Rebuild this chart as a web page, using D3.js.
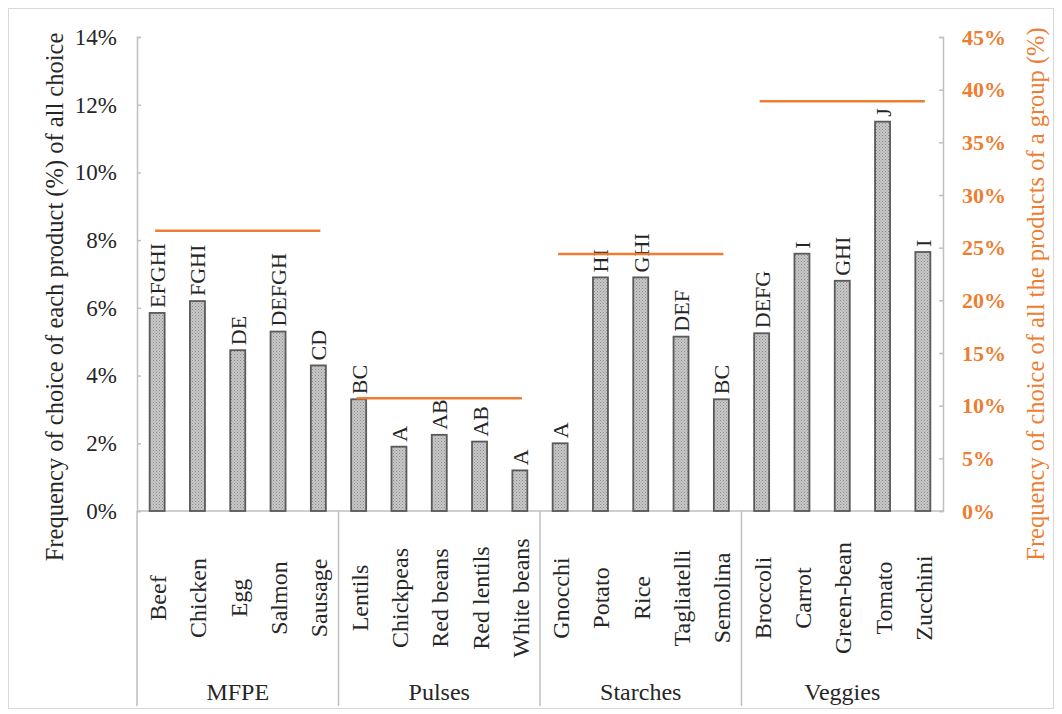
<!DOCTYPE html>
<html>
<head>
<meta charset="utf-8">
<script src="https://cdn.jsdelivr.net/npm/d3@7"></script>
<style>
  body { margin: 0; background: #fff; }
  svg { display: block; font-family: "Liberation Serif", "Times New Roman", serif; }
</style>
</head>
<body>
<svg width="1062" height="714"></svg>
<script>
// data
var groups = ["MFPE", "Pulses", "Starches", "Veggies"];
var products = ["Beef", "Chicken", "Egg", "Salmon", "Sausage",
    "Lentils", "Chickpeas", "Red beans", "Red lentils", "White beans",
    "Gnocchi", "Potato", "Rice", "Tagliatelli", "Semolina",
    "Broccoli", "Carrot", "Green-bean", "Tomato", "Zucchini"];
var productGroup = ["MFPE", "MFPE", "MFPE", "MFPE", "MFPE",
    "Pulses", "Pulses", "Pulses", "Pulses", "Pulses",
    "Starches", "Starches", "Starches", "Starches", "Starches",
    "Veggies", "Veggies", "Veggies", "Veggies", "Veggies"];
var productFreq = [5.85, 6.2, 4.75, 5.3, 4.3,
    3.3, 1.9, 2.25, 2.05, 1.2,
    2.0, 6.9, 6.9, 5.15, 3.3,
    5.25, 7.6, 6.8, 11.5, 7.65];
var letters = ["EFGHI", "FGHI", "DE", "DEFGH", "CD",
    "BC", "A", "AB", "AB", "A",
    "A", "HI", "GHI", "DEF", "BC",
    "DEFG", "I", "GHI", "J", "I"];
var groupFreq = [26.6, 10.7, 24.4, 38.9];
var leftTicks = [0, 2, 4, 6, 8, 10, 12, 14];
var rightTicks = [0, 5, 10, 15, 20, 25, 30, 35, 40, 45];

var svg = d3.select("svg"),
    width = +svg.attr("width"),
    height = +svg.attr("height");

var orange = "#ed7d31",
    axisGrey = "#bfbfbf",
    textCol = "#262626";

var plot = {left: 137, right: 943, top: 37, bottom: 511, labelBottom: 706};

var x = d3.scaleBand()
    .domain(products)
    .range([plot.left, plot.right]);

var y = d3.scaleLinear()
    .domain([0, 14])
    .range([plot.bottom, plot.top]);

var y2 = d3.scaleLinear()
    .domain([0, 45])
    .range([plot.bottom, plot.top]);

// chart area border
svg.append("rect")
    .attr("x", 8.5).attr("y", 8.5)
    .attr("width", width - 17).attr("height", height - 14)
    .attr("fill", "none")
    .attr("stroke", "#d9d9d9");

// dotted fill for the bars
var defs = svg.append("defs");
var pat = defs.append("pattern")
    .attr("id", "dots")
    .attr("patternUnits", "userSpaceOnUse")
    .attr("width", 3).attr("height", 3);
pat.append("rect").attr("width", 3).attr("height", 3).attr("fill", "#c8c8c8");
pat.append("rect").attr("width", 1).attr("height", 1).attr("fill", "#8c8c8c");
pat.append("rect").attr("x", 1.5).attr("y", 1.5).attr("width", 1).attr("height", 1).attr("fill", "#9a9a9a");

// left axis
var gY = svg.append("g")
    .attr("transform", `translate(${plot.left},0)`)
    .call(d3.axisRight(y)
        .tickValues(leftTicks)
        .tickSize(4)
        .tickFormat(d => d + "%"));
gY.select(".domain").attr("stroke", axisGrey).attr("stroke-width", 1.5);
gY.selectAll(".tick line").attr("stroke", axisGrey).attr("stroke-width", 1.5);
gY.selectAll(".tick text")
    .attr("x", -20)
    .attr("text-anchor", "end")
    .attr("fill", textCol)
    .attr("font-size", 23)
    .attr("font-family", "Liberation Serif");

// right axis
var gY2 = svg.append("g")
    .attr("transform", `translate(${plot.right},0)`)
    .call(d3.axisLeft(y2)
        .tickValues(rightTicks)
        .tickSize(4)
        .tickFormat(d => d + "%"));
gY2.select(".domain").attr("stroke", axisGrey).attr("stroke-width", 1.5);
gY2.selectAll(".tick line").attr("stroke", axisGrey).attr("stroke-width", 1.5);
gY2.selectAll(".tick text")
    .attr("x", 19)
    .attr("text-anchor", "start")
    .attr("fill", orange)
    .attr("font-weight", "bold")
    .attr("font-size", 22)
    .attr("font-family", "Liberation Serif");

// baseline
svg.append("line")
    .attr("x1", plot.left).attr("x2", plot.right)
    .attr("y1", y(0)).attr("y2", y(0))
    .attr("stroke", axisGrey).attr("stroke-width", 1.5);

// group separators below the axis
var seps = [plot.left].concat(groups.slice(1).map(g => x(products[productGroup.indexOf(g)])));
svg.selectAll(".sep")
    .data(seps)
    .join("line")
    .attr("class", "sep")
    .attr("x1", d => d).attr("x2", d => d)
    .attr("y1", y(0)).attr("y2", plot.labelBottom)
    .attr("stroke", axisGrey).attr("stroke-width", 1.5);

var barW = 15;

// bars
svg.selectAll(".bar")
    .data(products)
    .join("rect")
    .attr("class", "bar")
    .attr("x", d => x(d) + x.bandwidth() / 2 - barW / 2)
    .attr("y", (d, i) => y(productFreq[i]))
    .attr("width", barW)
    .attr("height", (d, i) => y(0) - y(productFreq[i]))
    .attr("fill", "url(#dots)")
    .attr("stroke", "#5a5a5a")
    .attr("stroke-width", 1.8);

// significance letters
svg.selectAll(".letter")
    .data(products)
    .join("text")
    .attr("class", "letter")
    .attr("transform", (d, i) => `translate(${x(d) + x.bandwidth() / 2 + 8},${y(productFreq[i]) - 5}) rotate(-90)`)
    .attr("text-anchor", "start")
    .attr("font-size", 22)
    .attr("fill", textCol)
    .text((d, i) => letters[i]);

// group frequency lines (right axis)
svg.selectAll(".gline")
    .data(groups)
    .join("line")
    .attr("class", "gline")
    .attr("x1", g => x(products[productGroup.indexOf(g)]) + x.bandwidth() / 2 - 2)
    .attr("x2", g => x(products[productGroup.lastIndexOf(g)]) + x.bandwidth() / 2 + 2)
    .attr("y1", (g, i) => y2(groupFreq[i]))
    .attr("y2", (g, i) => y2(groupFreq[i]))
    .attr("stroke", orange)
    .attr("stroke-width", 2.5);

// product labels
svg.selectAll(".plabel")
    .data(products)
    .join("text")
    .attr("class", "plabel")
    .attr("transform", d => `translate(${x(d) + x.bandwidth() / 2 + 9},598) rotate(-90)`)
    .attr("text-anchor", "middle")
    .attr("font-size", 24)
    .attr("fill", textCol)
    .text(d => d);

// group labels
svg.selectAll(".glabel")
    .data(groups)
    .join("text")
    .attr("class", "glabel")
    .attr("x", g => {
        var a = x(products[productGroup.indexOf(g)]);
        var b = x(products[productGroup.lastIndexOf(g)]) + x.bandwidth();
        return (a + b) / 2;
    })
    .attr("y", 700)
    .attr("text-anchor", "middle")
    .attr("font-size", 24)
    .attr("fill", textCol)
    .text(g => g);

// axis titles
svg.append("text")
    .attr("transform", "translate(63,297) rotate(-90)")
    .attr("text-anchor", "middle")
    .attr("font-size", 24.5)
    .attr("fill", textCol)
    .text("Frequency of choice of each product (%) of all choice");

svg.append("text")
    .attr("transform", "translate(1044,294) rotate(-90)")
    .attr("text-anchor", "middle")
    .attr("font-size", 24.5)
    .attr("fill", orange)
    .text("Frequency of choice of all the products of a group (%)");
</script>
</body>
</html>
